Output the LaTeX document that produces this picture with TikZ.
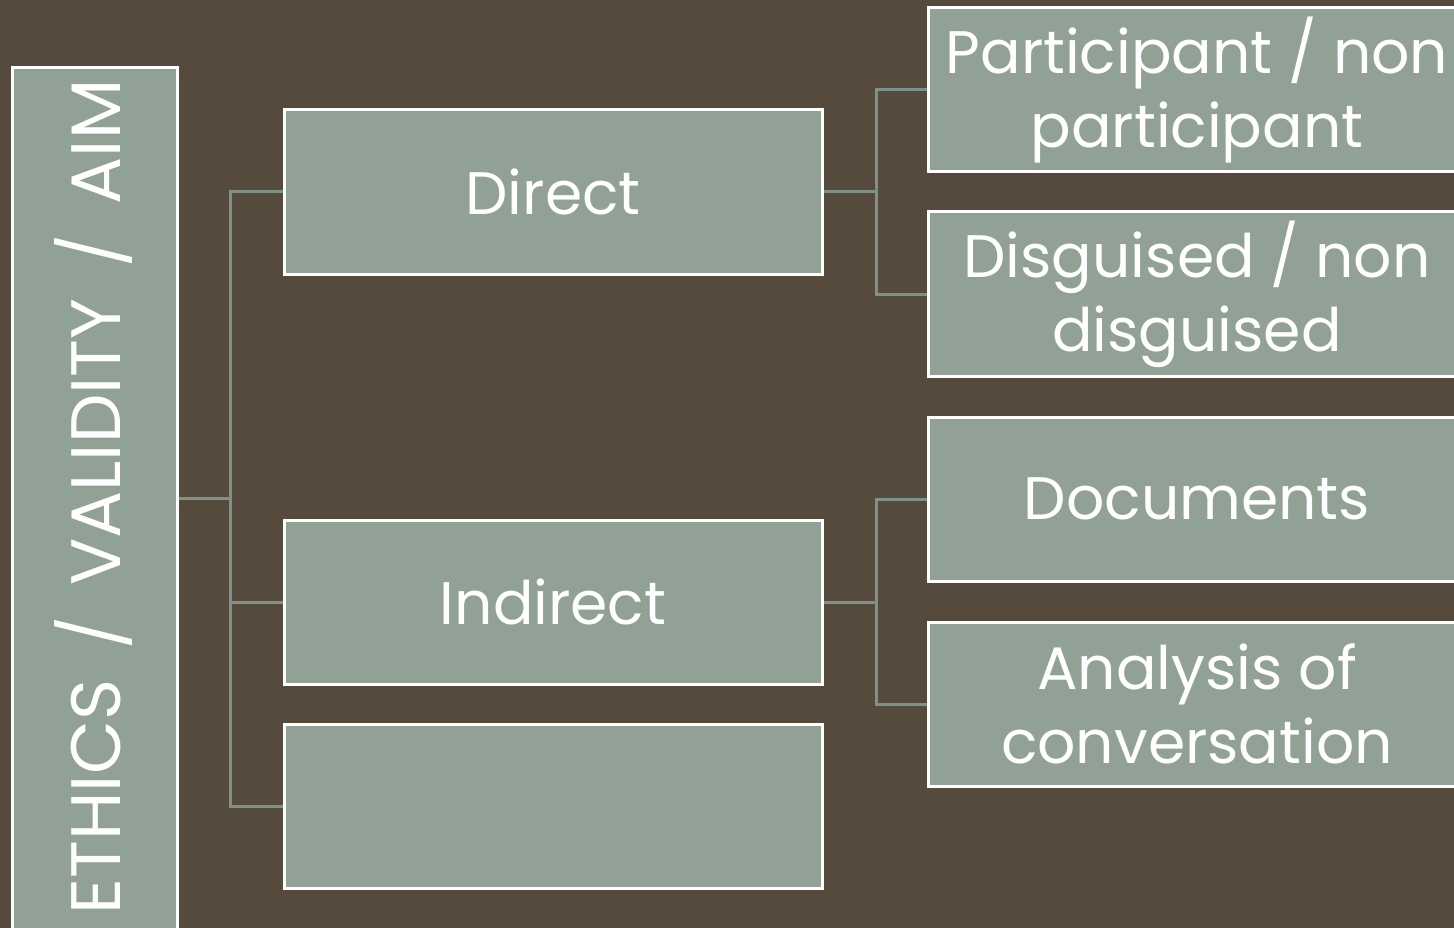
\documentclass[tikz,border=0pt]{standalone}
\usepackage{fontspec}
\setmainfont{Poppins}
\definecolor{bgbrown}{HTML}{564A3C}
\definecolor{boxgreen}{HTML}{91A195}
\definecolor{linkgreen}{HTML}{7E908A}

\begin{document}
\begin{tikzpicture}[x=1pt,y=-1pt,
  box/.style={draw=white,line width=3pt,fill=boxgreen,minimum width=538pt,minimum height=164pt,inner sep=0pt,text=white,align=center,font=\fontsize{60}{74}\selectfont},
  link/.style={draw=linkgreen,line width=3pt}]
\useasboundingbox (0,0) rectangle (1454,928);
\clip (0,0) rectangle (1454,928);
\fill[bgbrown] (0,0) rectangle (1454,928);
% left column
\node[box,minimum width=165pt,minimum height=880pt] (root) at (94.5,508) {};
\node[rotate=90,text=white,font=\fontsize{70}{80}\selectfont] (roottext) at (93,497) {ETHICS\,\ /\ \,VALIDITY\,\ /\ \,AIM};
% middle column
\node[box] (direct) at (553,192) {Direct};
\node[box] (indirect) at (553,602) {Indirect};
\node[box] (blank) at (553,806) {};
% right column
\node[box] (partic) at (1197,90) {Participant / non\\participant};
\node[box] (disguise) at (1197,294) {Disguised / non\\disguised};
\node[box] (docs) at (1197,499) {Documents};
\node[box] (convo) at (1197,704) {Analysis of\\conversation};
% connectors
\coordinate (rootfork) at (230,498);
\draw[link] (root.east |- rootfork) -- (rootfork);
\draw[link] (rootfork) |- (direct.west);
\draw[link] (rootfork) |- (indirect.west);
\draw[link] (rootfork) |- (blank.west);
\draw[link] (direct.east) -- ++(53,0) coordinate (directfork);
\draw[link] (directfork) |- (partic.west);
\draw[link] (directfork) |- (disguise.west);
\draw[link] (indirect.east) -- ++(53,0) coordinate (indirectfork);
\draw[link] (indirectfork) |- (docs.west);
\draw[link] (indirectfork) |- (convo.west);
\end{tikzpicture}
\end{document}
